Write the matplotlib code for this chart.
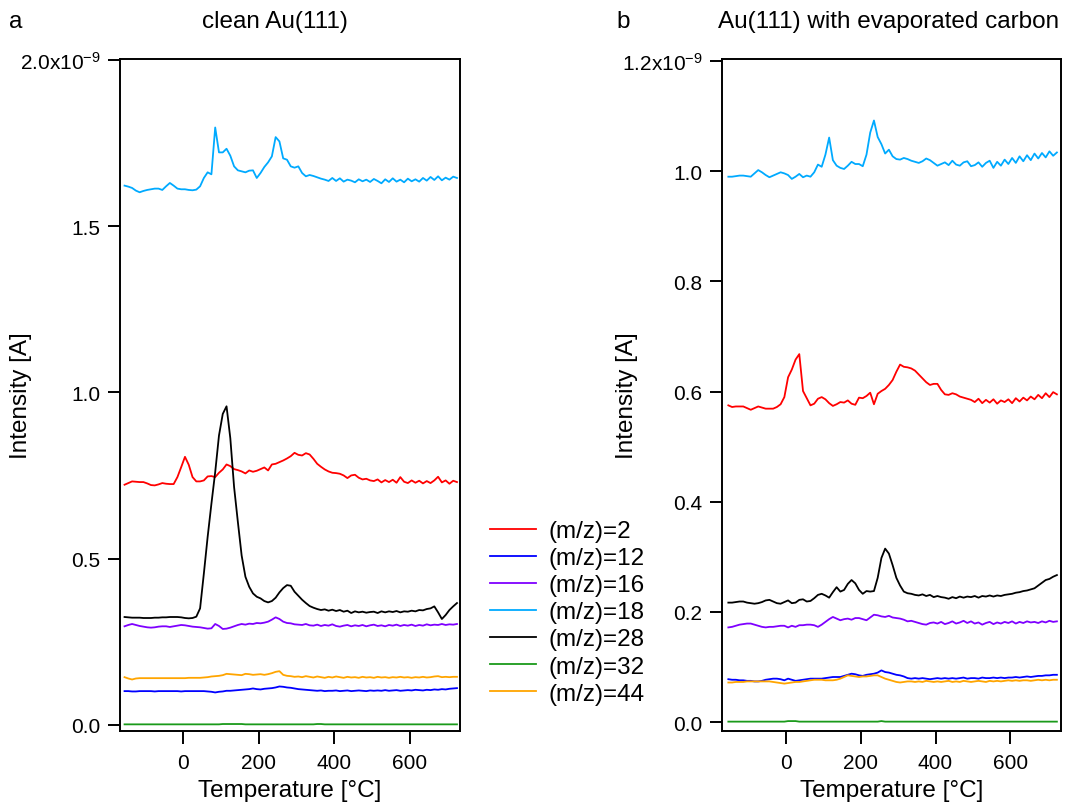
import numpy as np
import pandas as pd
import matplotlib
matplotlib.use("Agg")
import matplotlib.pyplot as plt
from matplotlib.ticker import FixedLocator, FuncFormatter

plt.rcParams['font.family'] = ['Liberation Sans', 'DejaVu Sans']
plt.rcParams['mathtext.fontset'] = 'custom'
plt.rcParams['mathtext.rm'] = 'Liberation Sans'
plt.rcParams['mathtext.it'] = 'Liberation Sans'
plt.rcParams['mathtext.bf'] = 'Liberation Sans'

# temperature sampling, degC (same for both panels)
temperature = np.arange(-155, 726, 10)

labels = ['(m/z)=2', '(m/z)=12', '(m/z)=16', '(m/z)=18', '(m/z)=28', '(m/z)=32', '(m/z)=44']
colors = ['#ff0000', '#0000ff', '#7f00ff', '#00aaff', '#000000', '#1a9a1a', '#ffa500']

# ---- panel a: clean Au(111), intensity in 1e-9 A ----
a_mz2 = [0.722, 0.727, 0.732, 0.731, 0.730, 0.730, 0.726, 0.721, 0.720, 0.723,
         0.727, 0.725, 0.724, 0.724, 0.745, 0.775, 0.806, 0.782, 0.745, 0.732,
         0.732, 0.735, 0.747, 0.748, 0.745, 0.758, 0.768, 0.783, 0.778, 0.769,
         0.766, 0.762, 0.756, 0.765, 0.761, 0.764, 0.769, 0.774, 0.765, 0.783,
         0.785, 0.790, 0.795, 0.801, 0.808, 0.818, 0.812, 0.810, 0.817, 0.813,
         0.800, 0.785, 0.776, 0.768, 0.762, 0.758, 0.757, 0.755, 0.750, 0.742,
         0.750, 0.752, 0.743, 0.738, 0.740, 0.735, 0.733, 0.738, 0.729, 0.736,
         0.730, 0.737, 0.728, 0.745, 0.731, 0.727, 0.735, 0.728, 0.734, 0.726,
         0.733, 0.727, 0.735, 0.746, 0.729, 0.735, 0.725, 0.734, 0.730]
a_mz12 = [0.101, 0.101, 0.100, 0.100, 0.101, 0.101, 0.101, 0.101, 0.100, 0.101,
          0.101, 0.101, 0.101, 0.101, 0.101, 0.100, 0.101, 0.101, 0.101, 0.101,
          0.101, 0.101, 0.100, 0.099, 0.097, 0.099, 0.100, 0.102, 0.102, 0.103,
          0.104, 0.105, 0.106, 0.107, 0.109, 0.107, 0.106, 0.108, 0.109, 0.110,
          0.112, 0.115, 0.114, 0.112, 0.111, 0.109, 0.107, 0.106, 0.105, 0.104,
          0.103, 0.102, 0.103, 0.101, 0.102, 0.102, 0.103, 0.101, 0.102, 0.103,
          0.101, 0.102, 0.103, 0.102, 0.101, 0.103, 0.102, 0.103, 0.102, 0.104,
          0.102, 0.103, 0.104, 0.102, 0.103, 0.104, 0.103, 0.105, 0.104, 0.103,
          0.105, 0.104, 0.106, 0.105, 0.107, 0.106, 0.108, 0.109, 0.110]
a_mz16 = [0.296, 0.300, 0.303, 0.300, 0.297, 0.295, 0.293, 0.292, 0.293, 0.295,
          0.296, 0.296, 0.294, 0.296, 0.298, 0.300, 0.299, 0.297, 0.295, 0.294,
          0.293, 0.291, 0.289, 0.290, 0.303, 0.297, 0.288, 0.289, 0.292, 0.296,
          0.300, 0.303, 0.301, 0.304, 0.303, 0.306, 0.305, 0.307, 0.310, 0.316,
          0.323, 0.318, 0.310, 0.306, 0.305, 0.302, 0.301, 0.300, 0.303, 0.299,
          0.298, 0.301, 0.297, 0.300, 0.298, 0.302, 0.297, 0.295, 0.298, 0.300,
          0.296, 0.299, 0.297, 0.300, 0.296, 0.299, 0.301, 0.297, 0.299, 0.296,
          0.300, 0.298, 0.301, 0.297, 0.300, 0.298, 0.301, 0.297, 0.300, 0.298,
          0.302, 0.299, 0.301, 0.300, 0.303, 0.300, 0.302, 0.301, 0.303]
a_mz18 = [1.622, 1.619, 1.615, 1.607, 1.602, 1.606, 1.609, 1.611, 1.613, 1.613,
          1.609, 1.620, 1.630, 1.622, 1.613, 1.611, 1.611, 1.609, 1.608, 1.610,
          1.620, 1.645, 1.662, 1.656, 1.797, 1.722, 1.722, 1.733, 1.712, 1.680,
          1.668, 1.665, 1.662, 1.667, 1.668, 1.645, 1.660, 1.678, 1.692, 1.710,
          1.768, 1.755, 1.704, 1.700, 1.680, 1.676, 1.680, 1.660, 1.650, 1.654,
          1.651, 1.647, 1.643, 1.640, 1.636, 1.645, 1.636, 1.644, 1.634, 1.640,
          1.637, 1.632, 1.641, 1.635, 1.640, 1.633, 1.642, 1.636, 1.629, 1.641,
          1.633, 1.644, 1.634, 1.640, 1.632, 1.643, 1.635, 1.641, 1.634, 1.645,
          1.637, 1.648, 1.639, 1.650, 1.638, 1.646, 1.640, 1.649, 1.645]
a_mz28 = [0.324, 0.323, 0.322, 0.322, 0.322, 0.321, 0.321, 0.321, 0.322, 0.322,
          0.323, 0.323, 0.324, 0.324, 0.324, 0.323, 0.321, 0.320, 0.321, 0.325,
          0.350, 0.455, 0.565, 0.665, 0.760, 0.870, 0.935, 0.958, 0.862, 0.715,
          0.610, 0.509, 0.445, 0.415, 0.395, 0.385, 0.380, 0.372, 0.368, 0.372,
          0.382, 0.398, 0.411, 0.420, 0.418, 0.400, 0.388, 0.376, 0.366, 0.357,
          0.352, 0.348, 0.345, 0.347, 0.343, 0.346, 0.342, 0.345, 0.340, 0.343,
          0.336, 0.341, 0.338, 0.340, 0.337, 0.339, 0.340, 0.336, 0.341, 0.338,
          0.341, 0.339, 0.342, 0.338, 0.341, 0.340, 0.343, 0.341, 0.345, 0.344,
          0.348, 0.350, 0.356, 0.338, 0.318, 0.330, 0.345, 0.356, 0.366]
a_mz32 = [0.001, 0.001, 0.001, 0.001, 0.001, 0.001, 0.001, 0.001, 0.001, 0.001,
          0.001, 0.001, 0.001, 0.001, 0.001, 0.001, 0.001, 0.001, 0.001, 0.001,
          0.001, 0.001, 0.001, 0.001, 0.001, 0.001, 0.002, 0.002, 0.002, 0.002,
          0.002, 0.002, 0.001, 0.001, 0.001, 0.001, 0.001, 0.001, 0.001, 0.001,
          0.001, 0.001, 0.001, 0.001, 0.001, 0.001, 0.001, 0.001, 0.001, 0.001,
          0.001, 0.002, 0.002, 0.001, 0.001, 0.001, 0.001, 0.001, 0.001, 0.001,
          0.001, 0.001, 0.001, 0.001, 0.001, 0.001, 0.001, 0.001, 0.001, 0.001,
          0.001, 0.001, 0.001, 0.001, 0.001, 0.001, 0.001, 0.001, 0.001, 0.001,
          0.001, 0.001, 0.001, 0.001, 0.001, 0.001, 0.001, 0.001, 0.001]
a_mz44 = [0.143, 0.139, 0.136, 0.139, 0.140, 0.140, 0.140, 0.140, 0.140, 0.140,
          0.140, 0.140, 0.140, 0.140, 0.140, 0.140, 0.140, 0.141, 0.141, 0.141,
          0.141, 0.142, 0.143, 0.145, 0.146, 0.147, 0.149, 0.153, 0.152, 0.151,
          0.150, 0.149, 0.153, 0.152, 0.150, 0.151, 0.152, 0.150, 0.152, 0.155,
          0.159, 0.161, 0.150, 0.147, 0.146, 0.144, 0.145, 0.143, 0.146, 0.144,
          0.142, 0.145, 0.143, 0.141, 0.144, 0.142, 0.145, 0.143, 0.141, 0.144,
          0.142, 0.143, 0.141, 0.144, 0.142, 0.143, 0.141, 0.144, 0.142, 0.143,
          0.141, 0.143, 0.142, 0.144, 0.142, 0.143, 0.141, 0.143, 0.142, 0.144,
          0.142, 0.143, 0.145, 0.146, 0.143, 0.144, 0.143, 0.144, 0.144]

# ---- panel b: Au(111) with evaporated carbon, intensity in 1e-9 A ----
b_mz2 = [0.575, 0.572, 0.573, 0.573, 0.573, 0.570, 0.567, 0.570, 0.573, 0.571,
         0.569, 0.569, 0.569, 0.572, 0.577, 0.590, 0.626, 0.640, 0.658, 0.668,
         0.601, 0.588, 0.575, 0.578, 0.587, 0.590, 0.586, 0.579, 0.574, 0.577,
         0.581, 0.580, 0.584, 0.578, 0.576, 0.589, 0.588, 0.592, 0.598, 0.577,
         0.596, 0.601, 0.605, 0.612, 0.621, 0.636, 0.649, 0.645, 0.644, 0.642,
         0.638, 0.631, 0.624, 0.617, 0.612, 0.614, 0.614, 0.603, 0.595, 0.594,
         0.597, 0.595, 0.591, 0.589, 0.587, 0.585, 0.581, 0.587, 0.579, 0.585,
         0.580, 0.586, 0.578, 0.584, 0.581, 0.586, 0.579, 0.588, 0.582, 0.589,
         0.584, 0.591, 0.586, 0.594, 0.588, 0.597, 0.590, 0.599, 0.595]
b_mz12 = [0.078, 0.077, 0.077, 0.076, 0.076, 0.075, 0.075, 0.074, 0.074, 0.075,
          0.077, 0.078, 0.079, 0.079, 0.078, 0.076, 0.079, 0.077, 0.075, 0.076,
          0.077, 0.078, 0.079, 0.079, 0.079, 0.079, 0.080, 0.081, 0.082, 0.082,
          0.082, 0.084, 0.086, 0.088, 0.087, 0.085, 0.084, 0.086, 0.087, 0.088,
          0.090, 0.094, 0.091, 0.090, 0.088, 0.086, 0.085, 0.083, 0.080, 0.079,
          0.080, 0.079, 0.080, 0.079, 0.078, 0.079, 0.080, 0.079, 0.080, 0.079,
          0.080, 0.079, 0.080, 0.081, 0.079, 0.080, 0.080, 0.079, 0.081, 0.080,
          0.080, 0.081, 0.080, 0.081, 0.080, 0.081, 0.081, 0.082, 0.081, 0.082,
          0.083, 0.082, 0.083, 0.084, 0.084, 0.085, 0.085, 0.086, 0.086]
b_mz16 = [0.172, 0.173, 0.175, 0.177, 0.178, 0.179, 0.179, 0.177, 0.175, 0.173,
          0.172, 0.173, 0.173, 0.174, 0.175, 0.175, 0.172, 0.175, 0.173, 0.176,
          0.176, 0.177, 0.177, 0.176, 0.173, 0.177, 0.182, 0.187, 0.191, 0.188,
          0.185, 0.187, 0.188, 0.186, 0.189, 0.189, 0.187, 0.185, 0.190, 0.195,
          0.194, 0.192, 0.191, 0.193, 0.190, 0.189, 0.188, 0.186, 0.183, 0.184,
          0.182, 0.180, 0.178, 0.177, 0.180, 0.181, 0.179, 0.182, 0.178, 0.180,
          0.183, 0.179, 0.181, 0.184, 0.180, 0.183, 0.179, 0.181, 0.177, 0.180,
          0.182, 0.178, 0.181, 0.179, 0.182, 0.180, 0.183, 0.179, 0.182, 0.180,
          0.183, 0.181, 0.182, 0.180, 0.183, 0.181, 0.184, 0.182, 0.183]
b_mz18 = [0.990, 0.990, 0.991, 0.992, 0.992, 0.991, 0.990, 0.996, 1.002, 0.998,
          0.993, 0.989, 0.992, 0.995, 0.998, 0.996, 0.993, 0.986, 0.990, 0.995,
          0.989, 0.992, 0.990, 0.998, 1.012, 1.008, 1.030, 1.061, 1.020, 1.010,
          1.006, 1.004, 1.010, 1.017, 1.013, 1.013, 1.009, 1.030, 1.070, 1.092,
          1.062, 1.049, 1.032, 1.039, 1.027, 1.022, 1.021, 1.024, 1.022, 1.019,
          1.017, 1.015, 1.018, 1.023, 1.020, 1.015, 1.010, 1.013, 1.016, 1.011,
          1.019, 1.012, 1.010, 1.016, 1.018, 1.009, 1.011, 1.016, 1.008, 1.015,
          1.019, 1.006, 1.017, 1.010, 1.021, 1.013, 1.024, 1.015, 1.027, 1.018,
          1.029, 1.020, 1.032, 1.023, 1.033, 1.025, 1.036, 1.028, 1.034]
b_mz28 = [0.217, 0.217, 0.218, 0.219, 0.219, 0.217, 0.216, 0.215, 0.216, 0.218,
          0.221, 0.222, 0.219, 0.216, 0.215, 0.218, 0.221, 0.216, 0.217, 0.222,
          0.223, 0.219, 0.220, 0.225, 0.231, 0.233, 0.230, 0.226, 0.236, 0.245,
          0.237, 0.240, 0.251, 0.258, 0.252, 0.240, 0.233, 0.238, 0.237, 0.238,
          0.262, 0.298, 0.315, 0.306, 0.285, 0.262, 0.248, 0.237, 0.234, 0.233,
          0.231, 0.230, 0.232, 0.229, 0.231, 0.227, 0.229, 0.227, 0.226, 0.224,
          0.227, 0.225, 0.228, 0.226, 0.228, 0.227, 0.229, 0.226, 0.229, 0.228,
          0.230, 0.228, 0.230, 0.229, 0.231, 0.232, 0.233, 0.235, 0.236, 0.238,
          0.239, 0.241, 0.243, 0.248, 0.253, 0.258, 0.260, 0.264, 0.267]
b_mz32 = [0.001, 0.001, 0.001, 0.001, 0.001, 0.001, 0.001, 0.001, 0.001, 0.001,
          0.001, 0.001, 0.001, 0.001, 0.001, 0.001, 0.002, 0.002, 0.002, 0.001,
          0.001, 0.001, 0.001, 0.001, 0.001, 0.001, 0.001, 0.001, 0.001, 0.001,
          0.001, 0.001, 0.001, 0.001, 0.001, 0.001, 0.001, 0.001, 0.001, 0.001,
          0.001, 0.002, 0.001, 0.001, 0.001, 0.001, 0.001, 0.001, 0.001, 0.001,
          0.001, 0.001, 0.001, 0.001, 0.001, 0.001, 0.001, 0.001, 0.001, 0.001,
          0.001, 0.001, 0.001, 0.001, 0.001, 0.001, 0.001, 0.001, 0.001, 0.001,
          0.001, 0.001, 0.001, 0.001, 0.001, 0.001, 0.001, 0.001, 0.001, 0.001,
          0.001, 0.001, 0.001, 0.001, 0.001, 0.001, 0.001, 0.001, 0.001]
b_mz44 = [0.072, 0.072, 0.073, 0.073, 0.073, 0.074, 0.074, 0.074, 0.074, 0.074,
          0.074, 0.074, 0.073, 0.072, 0.071, 0.070, 0.071, 0.072, 0.073, 0.073,
          0.074, 0.075, 0.076, 0.077, 0.077, 0.077, 0.076, 0.076, 0.076, 0.077,
          0.079, 0.082, 0.085, 0.084, 0.083, 0.082, 0.083, 0.083, 0.084, 0.085,
          0.085, 0.082, 0.079, 0.077, 0.075, 0.073, 0.072, 0.073, 0.074, 0.074,
          0.073, 0.074, 0.073, 0.075, 0.074, 0.073, 0.074, 0.073, 0.074, 0.075,
          0.073, 0.074, 0.073, 0.075, 0.074, 0.073, 0.074, 0.075, 0.074, 0.073,
          0.075, 0.074, 0.075, 0.074, 0.075, 0.076, 0.075, 0.076, 0.075, 0.076,
          0.076, 0.075, 0.076, 0.077, 0.076, 0.077, 0.076, 0.077, 0.077]

df_a = pd.DataFrame({'T': temperature, '2': a_mz2, '12': a_mz12, '16': a_mz16, '18': a_mz18,
                     '28': a_mz28, '32': a_mz32, '44': a_mz44})
df_b = pd.DataFrame({'T': temperature, '2': b_mz2, '12': b_mz12, '16': b_mz16, '18': b_mz18,
                     '28': b_mz28, '32': b_mz32, '44': b_mz44})
cols = ['2', '12', '16', '18', '28', '32', '44']


def top_label(top):
    def fmt(v, pos):
        if abs(v - top) < 1e-6:
            return '%.1fx10$^{-9}$' % v
        return '%.1f' % v
    return FuncFormatter(fmt)


def style_axes(ax, yticks, xlim, ylim):
    ax.set_xlim(*xlim)
    ax.set_ylim(*ylim)
    ax.xaxis.set_major_locator(FixedLocator([0, 200, 400, 600]))
    ax.yaxis.set_major_locator(FixedLocator(yticks))
    ax.yaxis.set_major_formatter(top_label(yticks[-1]))
    ax.tick_params(direction='out', length=9, width=1.4, labelsize=15, pad=5)
    ax.tick_params(axis='x', pad=7)
    for s in ax.spines.values():
        s.set_linewidth(1.4)
    ax.set_xlabel('Temperature [°C]', fontsize=17.5, labelpad=5)
    ax.set_ylabel('Intensity [A]', fontsize=17.5)


fig = plt.figure(figsize=(10.68, 8.03), dpi=100)

G1 = fig.add_axes([120/1068, 71/803, 340/1068, 672/803])
for c, lab, col in zip(cols, labels, colors):
    G1.plot('T', c, data=df_a, color=col, lw=1.3, label=lab)
style_axes(G1, [0.0, 0.5, 1.0, 1.5, 2.0], (-167, 733), (-0.019, 2.003))
G1.yaxis.set_label_coords(-0.259, 0.5)

G2 = fig.add_axes([722/1068, 71/803, 339/1068, 672/803])
for c, lab, col in zip(cols, labels, colors):
    G2.plot('T', c, data=df_b, color=col, lw=1.3, label=lab)
style_axes(G2, [0.0, 0.2, 0.4, 0.6, 0.8, 1.0, 1.2], (-172, 736), (-0.016, 1.2036))
G2.yaxis.set_label_coords(-0.248, 0.5)

fig.text(16/1068, 1 - 22/803, 'a', fontsize=17.5, ha='center', va='center')
fig.text(275/1068, 1 - 22/803, 'clean Au(111)', fontsize=17.5, ha='center', va='center')
fig.text(623/1068, 1 - 22/803, 'b', fontsize=17.5, ha='center', va='center')
fig.text(889/1068, 1 - 22/803, 'Au(111) with evaporated carbon', fontsize=17.5, ha='center', va='center')

handles, hlabels = G1.get_legend_handles_labels()
fig.legend(handles, hlabels, loc='upper left', bbox_to_anchor=(490/1068, 1 - 521/803),
           frameon=False, fontsize=17.5, handlelength=1.9, handletextpad=0.5,
           labelspacing=0.21, borderpad=0, borderaxespad=0)

fig.savefig('out.png', dpi=100)
